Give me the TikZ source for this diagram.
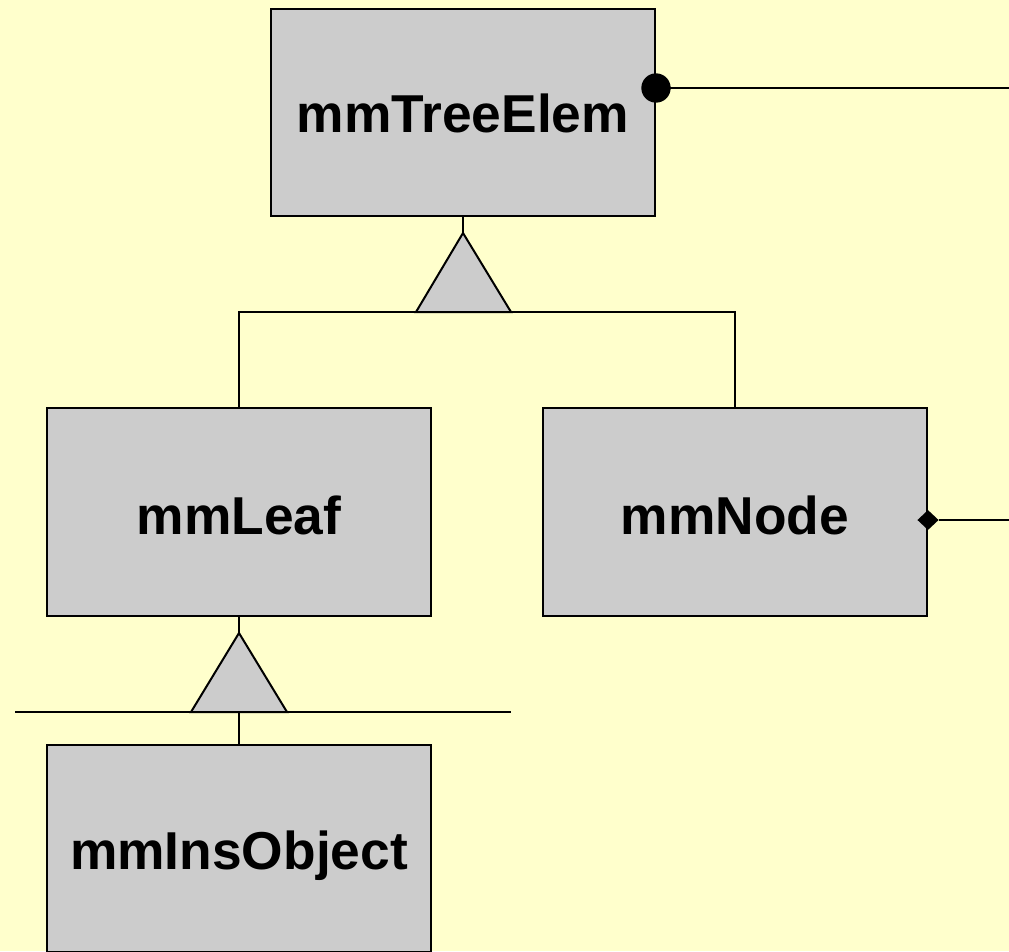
\documentclass[tikz,border=0pt]{standalone}
\usepackage{fontspec}
\setmainfont{Liberation Sans}
\usetikzlibrary{shapes.geometric}
\definecolor{paper}{HTML}{FFFFCC}
\definecolor{classgray}{HTML}{CCCCCC}
\tikzset{
  classfont/.style={font=\fontsize{40}{48}\selectfont\bfseries,
    text height=30.5pt, text depth=0pt},
  classbox/.style={draw=black, fill=classgray, line width=1.5pt,
    minimum width=288pt, minimum height=155.5pt, inner sep=0pt, classfont},
  lowtext/.style={text height=33.8pt},
  link/.style={draw=black, line width=1.5pt},
  genarrow/.style={draw=black, fill=classgray, line width=1.5pt, line join=miter},
  aggdot/.style={circle, fill=black, minimum size=22pt, inner sep=0pt},
  compdiamond/.style={diamond, fill=black, minimum width=16pt, minimum height=15pt, inner sep=0pt}
}
\begin{document}
\begin{tikzpicture}[x=0.75pt, y=-0.75pt]
  \useasboundingbox (0,0) rectangle (1009,951);
  \fill[paper] (0,0) rectangle (1009,951);
  \clip (0,0) rectangle (1009,951);

  % class boxes
  \node[classbox] (tree) at (463,112.5) {mmTreeElem};
  \node[classbox, lowtext] (leaf) at (239,512) {mmLeaf};
  \node[classbox, lowtext] (nodecls) at (735,512) {mmNode};
  \node[classbox, anchor=north] (ins) at (239,744) {};
  \node[classfont, inner sep=0pt] (inslabel) at (239,849) {mmInsObject};

  % generalisation: mmLeaf / mmNode -> mmTreeElem
  \coordinate (apexA) at (463,233);
  \coordinate (baseA) at (463,312);
  \draw[link] (tree.south) -- (apexA);
  \draw[link] (leaf.north) -- (leaf.north |- baseA) -- (nodecls.north |- baseA) -- (nodecls.north);
  \draw[genarrow] (apexA) -- (416,312) -- (511,312) -- cycle;

  % generalisation: mmInsObject -> mmLeaf
  \coordinate (apexB) at (239,633);
  \coordinate (baseB) at (239,712);
  \draw[link] (leaf.south) -- (apexB);
  \draw[link] (15,712) -- (511,712);
  \draw[link] (baseB) -- (ins.north);
  \draw[genarrow] (apexB) -- (191,712) -- (287,712) -- cycle;

  % outgoing associations
  \coordinate (outA) at (1009,88);
  \coordinate (outB) at (1009,520);
  \node[aggdot] (dot) at (tree.east |- outA) {};
  \draw[link] (dot.center) -- (outA);
  \node[compdiamond] (dia) at (nodecls.east |- outB) {};
  \draw[link] (dia.east) -- (outB);
\end{tikzpicture}
\end{document}
